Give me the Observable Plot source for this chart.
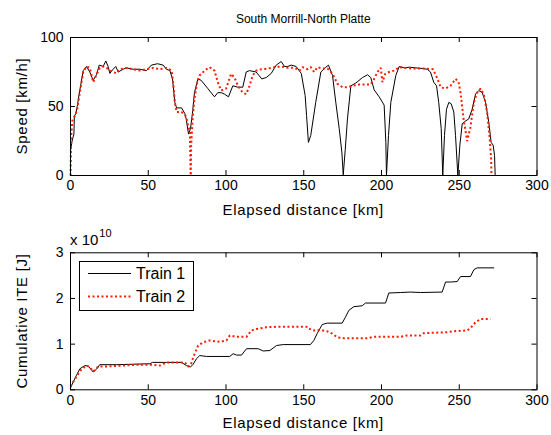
<!DOCTYPE html>
<html><head><meta charset="utf-8">
<script src="https://cdn.jsdelivr.net/npm/d3@7"></script>
<script src="https://cdn.jsdelivr.net/npm/@observablehq/plot@0.6"></script>
<style>
body{margin:0;background:#fff;}
#wrap{position:relative;width:551px;height:435px;font-family:"Liberation Sans",Arial,sans-serif;color:#000;overflow:hidden;}
.t{position:absolute;white-space:nowrap;line-height:1;}
</style></head><body><div id="wrap"></div>
<script>
// ---- ticks ----
const xTicks = [0, 50, 100, 150, 200, 250, 300];
const speedTicks = [0, 50, 100];
const iteTicks = [0, 1, 2, 3]; // x 10^10 J
const seriesNames = ["Train 1", "Train 2"];

// ---- speed, Train 1 ----
const t1SpeedKm = [0,1.0,2.2,2.5,3.5,4.3,6,8.2,10.3,12.4,14.6,16.7,18.5,21,22.7,24.2,25.3,27.4,29.1,30.7,33.9,36,40.3,44.6,48.9,52,56,59.6,61.7,63.9,65.6,67.1,68.2,71.4,73.5,74.4,75.9,77.2,78.6,79.7,81.9,84,88.3,92.6,94.7,96.9,99,101.6,104.4,107.6,110.8,113,115.1,119.4,123,125.9,129.1,132.3,135.5,137.6,139.7,141.9,145.1,148.4,150.9,151.8,153,154.5,157.7,161,164.2,165.9,168.5,170.6,172.8,174.5,175.4,176.7,178.1,180.3,183.5,187.8,191,193.1,195.3,198.5,201.7,202.8,203.2,204.5,206,209.2,211.4,214.6,218,222.1,226.4,229.4,231.5,233.6,235.4,236.8,238.4,239.4,240.5,241.8,243.3,244.8,246.5,247.6,249.1,250.4,251.9,253.4,256.1,258.3,260.5,262.6,264.8,266.9,269,270.5,271.8,272.7,273.1];
const t1Speed = [18,25,30,43,45,50,62,76,79,75,69,73,80,79,83,79,74,77,79,75,77,78,77,77,76,80,81,80,77,76,70,53,49,49,45,41,30,34,47,60,70,69,63,57,60,60,59,57,65,64,64,75,76,75,70,71,74,80,82.6,79,79,80,79,74,58,43.5,24,29,53,75,78.5,80,72.5,53,34,17,0.5,19,41,65,67,71,73,71,62,57,51,24,0,29,53,72.5,79,78,78.5,78,77.5,77,75,67.6,65,53,34,0,29,48,53,52,46,29,0,22,37.5,39,41,48,59,61.6,60,53,38.6,24,22,14.5,0];

// ---- speed, Train 2 ----
const t2SpeedKm = [0,0.5,1.3,2.8,4.3,6,8.2,10.3,12.4,14.6,16.7,18.8,21,23.2,25.3,27.4,29.6,31.7,36,40.3,44.6,48.9,53.2,57.4,61.7,65,66,67.1,68.2,71.4,73.5,74.6,75.8,76.7,77.3,77.6,78.6,79.7,81.5,83,86.2,89.4,92.6,94.7,96.9,100.1,103.3,105.5,107.6,110.8,113,115.1,117.2,119.4,122.6,126.9,131.2,135.5,139.7,144.1,147.3,149.2,152.4,154.5,156.7,158.8,162.1,165.3,168.5,171.7,174.9,178.1,181.4,185.7,189.9,193.1,195.3,197.4,199.5,200.6,202.4,204.9,208.2,211.4,215.4,219.7,224,228,233.2,236,238,241,244.4,247.6,249.5,250.8,252.9,255.1,257.2,259.4,261.5,263.7,265.8,268,269.5,270.5,270.7];
const t2Speed = [0,29,41,43,48,60,75,79,78,67.6,73,78,79,78,76,75,74,77,78,77,76,77,78,77,78,76,67.6,53,46,46,44,42,35,33,0,22,42,55.5,67.6,72.5,76,78.5,76,67.6,61.6,63,73.7,71,65,60,59,65,72.5,76,77,77.5,78.5,79,78,78,76,78.5,77,78.5,75,78.5,77.5,77.5,73.7,66.4,64,64,65,66,66,66,70,75,78,67.6,73.7,75,76,78.5,78,77.5,77.5,77.5,77,70,64,63,65,70,68,60,40,25,35,53,60,63,59,45,28,12,0];

// ---- cumulative ITE (x 10^10 J), Train 1 ----
const t1IteKm = [0,1.7,3.9,6,9.2,11.4,14.6,16.7,18.8,29.6,40.3,51,52.7,61.7,71.4,74.6,77.2,78.9,81,83.1,87.5,102.4,104.6,106.8,110,113.2,120.7,123.9,128.2,132.5,136.8,154.3,156.5,158.6,161.9,165.1,174.7,176.8,179,182.2,187.6,189.7,202.6,204.7,212.2,218.6,225.1,239,241.2,244.4,248.7,250.8,257.2,259.4,261.5,272.2];
const t1Ite = [0.04,0.17,0.32,0.46,0.53,0.52,0.39,0.45,0.55,0.55,0.56,0.57,0.6,0.6,0.6,0.53,0.5,0.56,0.68,0.75,0.73,0.73,0.79,0.76,0.76,0.9,0.9,0.85,0.86,0.97,0.99,0.99,1.08,1.23,1.43,1.46,1.46,1.59,1.74,1.82,1.84,1.9,1.9,2.12,2.13,2.14,2.13,2.14,2.36,2.36,2.37,2.48,2.48,2.63,2.67,2.67];

// ---- cumulative ITE (x 10^10 J), Train 2 ----
const t2IteKm = [0,2.8,5,7.1,10.3,12.4,14.6,17.8,23.2,33.9,44.6,51,57.4,61.7,70.3,73.5,75.7,77.2,78.9,82.1,85.3,89.6,96,100.3,102.4,106.8,113.2,116.4,119.6,126,132.5,151.8,152.2,156.5,160.8,165.1,168.3,171.5,175.8,190.8,195,212.2,216.5,225.1,227.2,242.2,245.5,255.1,257.2,260.5,263.7,270.1];
const t2Ite = [0.08,0.23,0.35,0.45,0.53,0.5,0.4,0.51,0.51,0.53,0.55,0.55,0.53,0.6,0.6,0.6,0.51,0.53,0.71,0.97,1.04,1.08,1.05,1.08,1.19,1.16,1.16,1.3,1.33,1.37,1.38,1.38,1.35,1.3,1.31,1.28,1.23,1.15,1.13,1.13,1.16,1.16,1.19,1.19,1.24,1.26,1.28,1.3,1.35,1.48,1.55,1.55];

const zip = (ks, vs) => ks.map((k, i) => ({km: k, v: vs[i]}));
const wrap = document.getElementById("wrap");
const FONT = '"Liberation Sans", Arial, sans-serif';
const W = 551, ML = 70, MR = 14.5;
const innerW = W - ML - MR;
const red = "#ff1a00";
const DASH = "2,2.5";

function panel(d1, d2, yDomain, yTicks, height, mt, mb) {
  const innerH = height - mt - mb;
  const tk = 5;
  return Plot.plot({
    width: W, height, marginLeft: ML, marginRight: MR, marginTop: mt, marginBottom: mb,
    style: {fontFamily: FONT, fontSize: "14px", color: "#000", background: "transparent", overflow: "visible"},
    x: {domain: [0, 300]},
    y: {domain: yDomain},
    marks: [
      Plot.line(d1, {x: "km", y: "v", stroke: "#000", strokeWidth: 1}),
      Plot.line(d2, {x: "km", y: "v", stroke: red, strokeWidth: 2, strokeDasharray: DASH, strokeLinecap: "butt", strokeLinejoin: "miter"}),
      Plot.tickX(xTicks, {x: d => d, stroke: "#000", insetTop: innerH - tk}),
      Plot.tickX(xTicks, {x: d => d, stroke: "#000", insetBottom: innerH - tk}),
      Plot.tickY(yTicks, {y: d => d, stroke: "#000", insetRight: innerW - tk}),
      Plot.tickY(yTicks, {y: d => d, stroke: "#000", insetLeft: innerW - tk}),
      Plot.frame({stroke: "#000"}),
      Plot.axisX({ticks: xTicks, tickSize: 0, tickPadding: 5, label: null, tickFormat: d => String(d)}),
      Plot.axisY({ticks: yTicks, tickSize: 0, tickPadding: 7, label: null, tickFormat: d => String(d)})
    ]
  });
}

const topSvg = panel(zip(t1SpeedKm, t1Speed), zip(t2SpeedKm, t2Speed), [0, 100], speedTicks, 200, 37, 25);
const botSvg = panel(zip(t1IteKm, t1Ite), zip(t2IteKm, t2Ite), [0, 3], iteTicks, 180, 22.3, 20.7);
for (const [s, top] of [[topSvg, 0], [botSvg, 230]]) {
  s.style.position = "absolute"; s.style.left = "0px"; s.style.top = top + "px";
  wrap.appendChild(s);
}

function addText(html, css) {
  const d = document.createElement("div");
  d.className = "t"; d.innerHTML = html; Object.assign(d.style, css);
  wrap.appendChild(d); return d;
}
const cx = ML + innerW / 2;
addText("South Morrill-North Platte", {left: cx + "px", top: "19px", fontSize: "12px", transform: "translate(-50%,-50%)"});
addText("Elapsed distance [km]", {left: cx + "px", top: "209px", fontSize: "15px", letterSpacing: "0.7px", transform: "translate(-50%,-50%)"});
addText("Elapsed distance [km]", {left: cx + "px", top: "422px", fontSize: "15px", letterSpacing: "0.7px", transform: "translate(-50%,-50%)"});
addText("Speed [km/h]", {left: "21px", top: "106px", fontSize: "15px", letterSpacing: "0.7px", transform: "translate(-50%,-50%) rotate(-90deg)"});
addText("Cumulative ITE [J]", {left: "21px", top: "321px", fontSize: "15px", letterSpacing: "0.7px", transform: "translate(-50%,-50%) rotate(-90deg)"});
addText('x 10<span style="font-size:11px;position:relative;top:-8px;margin-left:1px">10</span>', {left: "70px", top: "232px", fontSize: "15px"});

// legend (inside lower panel, top-left)
const leg = document.createElement("div");
Object.assign(leg.style, {position: "absolute", left: "79px", top: "261px", width: "113px", height: "48px", border: "1px solid #000", background: "#fff"});
leg.innerHTML = `<svg width="113" height="48" style="position:absolute;left:0;top:0">
  <line x1="8" x2="51" y1="11.5" y2="11.5" stroke="#000" stroke-width="1"/>
  <line x1="8" x2="51" y1="34.5" y2="34.5" stroke="${red}" stroke-width="2" stroke-dasharray="${DASH}"/>
  <text x="56" y="11.5" dy="0.36em" font-family='${FONT}' font-size="16">${seriesNames[0]}</text>
  <text x="56" y="34.5" dy="0.36em" font-family='${FONT}' font-size="16">${seriesNames[1]}</text>
</svg>`;
wrap.appendChild(leg);
</script></body></html>
